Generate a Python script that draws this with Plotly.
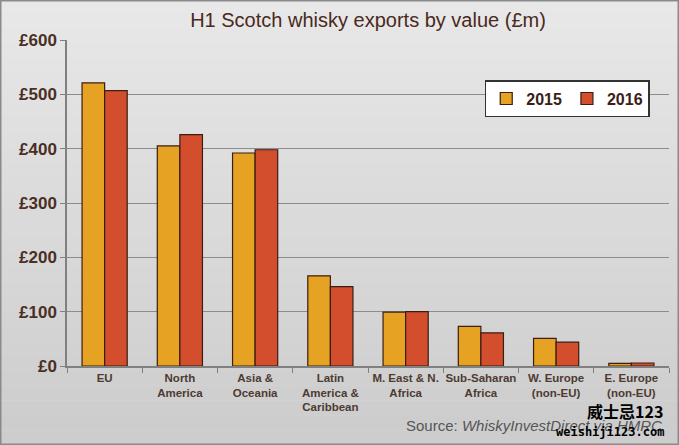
import plotly.graph_objects as go

categories = ["EU", "North<br>America", "Asia &<br>Oceania", "Latin<br>America &<br>Caribbean",
              "M. East & N.<br>Africa", "Sub-Saharan<br>Africa", "W. Europe<br>(non-EU)", "E. Europe<br>(non-EU)"]
v2015 = [521, 405, 392, 166, 99, 73, 51, 5]
v2016 = [507, 426, 398, 146, 100, 61, 44, 5.5]
y_ticks = [0, 100, 200, 300, 400, 500, 600]
y_labels = ["£0", "£100", "£200", "£300", "£400", "£500", "£600"]

W, H = 679, 445
L, R, T, B = 67, 10, 40, 79
pw, ph = W - L - R, H - T - B

brown = "#4a2f25"
fig = go.Figure()
fig.add_bar(name="<b>2015</b>", x=categories, y=v2015, marker=dict(color="#E6A323", line=dict(color="#3b1d12", width=1.2)))
fig.add_bar(name="<b>2016</b>", x=categories, y=v2016, marker=dict(color="#D24E2C", line=dict(color="#3b1d12", width=1.2)))

# background gradient bands
shapes = []
n = 30
x0p, x1p = -L / pw, 1 + R / pw
y0p, y1p = -B / ph, 1 + T / ph
for i in range(n):
    f = i / (n - 1)
    c = int(232 - (232 - 205) * f)
    ya = y1p - (y1p - y0p) * i / n
    yb = y1p - (y1p - y0p) * (i + 1) / n
    shapes.append(dict(type="rect", xref="paper", yref="paper", x0=x0p, x1=x1p, y0=yb, y1=ya,
                       fillcolor=f"rgb({c},{c},{c})", line=dict(width=0), layer="below"))
shapes.append(dict(type="rect", xref="paper", yref="paper", x0=x0p + 0.5 / pw, x1=x1p - 0.5 / pw,
                   y0=y0p + 0.5 / ph, y1=y1p - 0.5 / ph, line=dict(color="#8a8a8a", width=2), layer="above"))

fig.update_layout(
    width=W, height=H, margin=dict(l=L, r=R, t=T, b=B),
    paper_bgcolor="#dcdcdc", plot_bgcolor="rgba(0,0,0,0)",
    barmode="group", bargap=0.4, bargroupgap=0,
    font=dict(family="Arial, Liberation Sans", color=brown),
    title=dict(text="H1 Scotch whisky exports by value (£m)", x=0.5, xref="paper", xanchor="center",
               y=1 - 20 / H, yanchor="middle", font=dict(size=20, color="#4a2a20")),
    shapes=shapes,
    legend=dict(orientation="h", x=0.968, xanchor="right", y=0.877, yanchor="top",
                bgcolor="white", bordercolor="#333", borderwidth=1.5,
                font=dict(size=16, color="#3a2018", family="Arial"),
                itemwidth=30, traceorder="normal", tracegroupgap=0),
    annotations=[
        dict(text="Source: <i>WhiskyInvestDirect via HMRC</i>", xref="paper", yref="paper",
             x=1 - 5 / pw, y=-(425 - 366) / ph, xanchor="right", yanchor="middle", showarrow=False,
             font=dict(size=15, color="#555555")),
        dict(text="<b>威士忌123</b>", xref="paper", yref="paper", x=(625 - L) / pw, y=-(411 - 366) / ph,
             xanchor="center", yanchor="middle", showarrow=False,
             font=dict(size=16, color="black", family="Noto Sans CJK SC")),
        dict(text="<b>weishiji123.com</b>", xref="paper", yref="paper", x=(610 - L) / pw, y=-(432 - 366) / ph,
             xanchor="center", yanchor="middle", showarrow=False,
             font=dict(size=12, color="black", family="DejaVu Sans Mono")),
    ],
)
fig.update_xaxes(showgrid=False, showline=True, linecolor="#808080", linewidth=1.5,
                 ticks="outside", tickson="boundaries", ticklen=5, tickcolor="#808080",
                 tickfont=dict(size=11.5, color="#4d3b32", family="Arial"), tickangle=0)
fig.update_yaxes(range=[0, 600], tickvals=y_ticks, ticktext=[f"<b>{t}</b>" for t in y_labels],
                 showgrid=True, gridcolor="#8c8c8c", gridwidth=1.2, showline=True, linecolor="#808080",
                 linewidth=1.5, ticks="outside", ticklen=5, tickcolor="#808080",
                 tickfont=dict(size=17, color=brown, family="Arial"), zeroline=False)
fig.update_xaxes(ticktext=[f"<b>{c}</b>" for c in categories], tickvals=categories)

fig.write_html("out.html")
